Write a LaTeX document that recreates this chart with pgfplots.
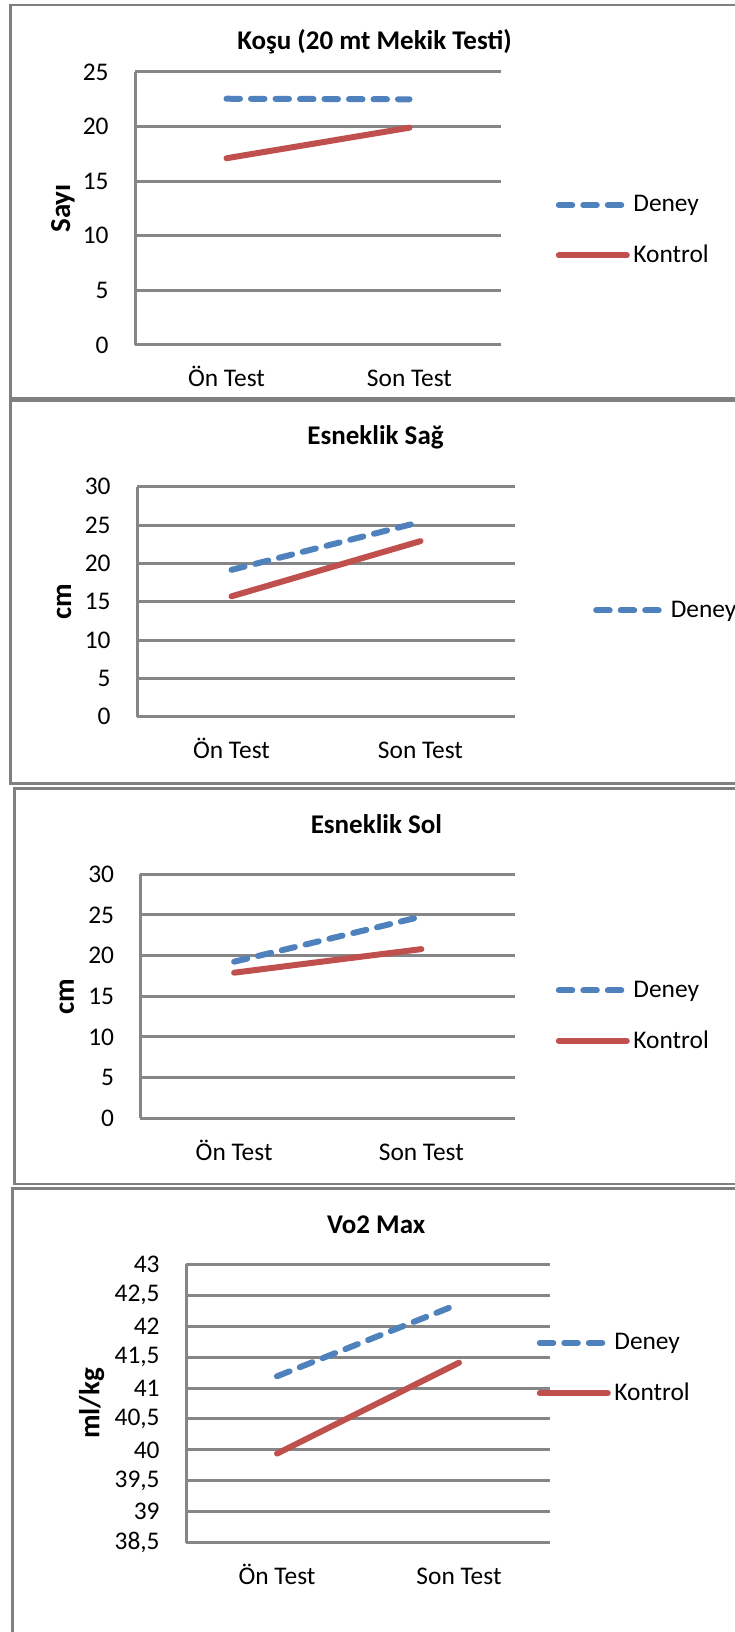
\documentclass[border=0pt]{standalone}
\usepackage{fontspec}
\setmainfont{Carlito}
\usepackage{pgfplots}
\pgfplotsset{compat=1.18}
\definecolor{gridc}{RGB}{134,134,134}
\definecolor{borderc}{RGB}{128,128,128}
\definecolor{cdeney}{RGB}{79,129,189}
\definecolor{ckontrol}{RGB}{192,80,77}
\newcommand\tf{\fontsize{12.7}{15}\selectfont}
\newcommand\ttl{\fontsize{13.5}{16}\selectfont\bfseries}
\newcommand\ylf{\fontsize{14.5}{17}\selectfont\bfseries}
\pgfplotsset{
 panel/.style={
  scale only axis,
  anchor=south west,
  xmin=-0.5, xmax=1.5,
  xtick={0,1}, xticklabels={Ön Test, Son Test},
  extra x ticks={-0.5}, extra x tick labels={},
  extra x tick style={grid=major},
  ymajorgrids,
  grid style={gridc, line width=1.5pt},
  major grid style={gridc, line width=1.5pt},
  axis line style={draw=none},
  major tick length=0pt,
  tick style={draw=none},
  xticklabel style={anchor=base, yshift=-21pt, font=\tf},
  yticklabel style={anchor=east, inner sep=0pt, xshift=-13pt, font=\tf},
  every axis y label/.style={rotate=90, anchor=base, font=\ylf},
  legend style={draw=none, fill=none, anchor=west, font=\tf, row sep=15.2pt, column sep=0pt, inner sep=0pt, nodes={inner xsep=1.8pt, inner ysep=0pt}},
  legend cell align=left,
  legend image code/.code={\draw[##1] (0pt,0pt) -- (34pt,0pt);},
  clip=false,
 },
 sdeney/.style={cdeney, line width=3pt, line cap=round, dash pattern=on 6.75pt off 5.5pt},
 skontrol/.style={ckontrol, line width=3pt, line cap=round},
}
\begin{document}
\begin{tikzpicture}
\path[use as bounding box] (0,0) rectangle (367pt,816pt);
% panel borders
\draw[borderc, line width=1.4pt] (372pt,813.5pt) -- (5.25pt,813.5pt) -- (5.25pt,616.75pt) -- (372pt,616.75pt);
\draw[borderc, line width=1.4pt] (372pt,615.75pt) -- (5.25pt,615.75pt) -- (5.25pt,424.25pt) -- (372pt,424.25pt);
\draw[borderc, line width=1.4pt] (372pt,421.75pt) -- (7.1pt,421.75pt) -- (7.1pt,224pt) -- (372pt,224pt);
\draw[borderc, line width=1.4pt] (372pt,221.9pt) -- (6.25pt,221.9pt) -- (6.25pt,-5pt);
% titles
\node[anchor=base, font=\ttl, inner sep=0pt] at (187.25pt,791.35pt) {Koşu (20 mt Mekik Testi)};
\node[anchor=base, font=\ttl, inner sep=0pt] at (187.75pt,593.5pt) {Esneklik Sağ};
\node[anchor=base, font=\ttl, inner sep=0pt] at (188.2pt,399.35pt) {Esneklik Sol};
\node[anchor=base, font=\ttl, inner sep=0pt] at (188.1pt,199.35pt) {Vo2 Max};

% Panel 1
\begin{axis}[panel, at={(67.5pt,643.5pt)}, width=183pt, height=136.5pt,
  ymin=0, ymax=25, ytick={0,5,10,15,20,25}, yticklabels={0,5,10,15,20,25},
  ylabel={Sayı}, ylabel style={at={(axis description cs:-0.177,0.5)}},
  legend style={at={(axis description cs:1.1486,0.419)}}]
\addplot[sdeney] coordinates {(0,22.55) (1,22.5)};
\addlegendentry{Deney}
\addplot[skontrol] coordinates {(0,17.1) (1,19.9)};
\addlegendentry{Kontrol}
\end{axis}

% Panel 2
\begin{axis}[panel, at={(68.5pt,457.65pt)}, width=189pt, height=115pt,
  ymin=0, ymax=30, ytick={0,5,10,15,20,25,30}, yticklabels={0,5,10,15,20,25,30},
  ylabel={cm}, ylabel style={at={(axis description cs:-0.174,0.5)}},
  legend style={at={(axis description cs:1.2058,0.462)}}]
\addplot[sdeney] coordinates {(0,19.15) (1,25.4)};
\addlegendentry{Deney}
\addplot[skontrol, forget plot] coordinates {(0,15.7) (1,22.9)};
\end{axis}

% Panel 3
\begin{axis}[panel, at={(70.25pt,256.85pt)}, width=187.25pt, height=122pt,
  ymin=0, ymax=30, ytick={0,5,10,15,20,25,30}, yticklabels={0,5,10,15,20,25,30},
  ylabel={cm}, ylabel style={at={(axis description cs:-0.1776,0.5)}},
  legend style={at={(axis description cs:1.1079,0.4195)}}]
\addplot[sdeney] coordinates {(0,19.25) (1,24.8)};
\addlegendentry{Deney}
\addplot[skontrol] coordinates {(0,17.9) (1,20.8)};
\addlegendentry{Kontrol}
\end{axis}

% Panel 4
\begin{axis}[panel, at={(93pt,44.65pt)}, width=182pt, height=139.2pt,
  ymin=38.5, ymax=43, ytick={38.5,39,39.5,40,40.5,41,41.5,42,42.5,43},
  yticklabels={{38,5},39,{39,5},40,{40,5},41,{41,5},42,{42,5},43},
  ylabel={ml/kg}, ylabel style={at={(axis description cs:-0.238,0.5)}},
  legend style={at={(axis description cs:0.9626,0.626)}}]
\addplot[sdeney] coordinates {(0,41.19) (1,42.36)};
\addlegendentry{Deney}
\addplot[skontrol] coordinates {(0,39.94) (1,41.41)};
\addlegendentry{Kontrol}
\end{axis}
\end{tikzpicture}
\end{document}
